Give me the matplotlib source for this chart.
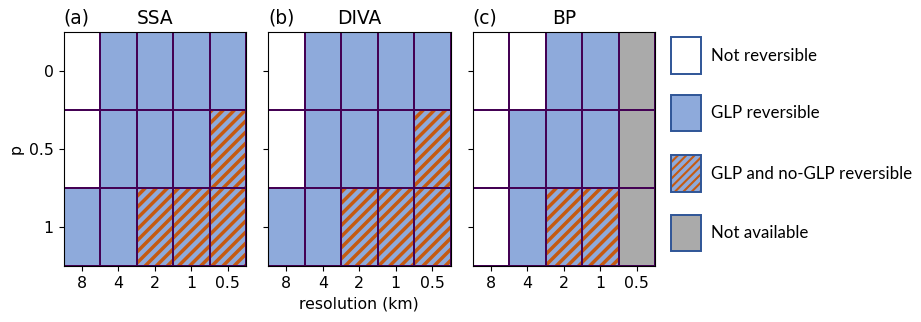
import numpy as np
import matplotlib
matplotlib.use("Agg")
import matplotlib.pyplot as plt
from matplotlib.colors import ListedColormap, BoundaryNorm
from matplotlib.patches import Rectangle

# codes: 0 not reversible, 1 GLP reversible, 2 GLP and no-GLP reversible, 3 not available
resolutions = ["8", "4", "2", "1", "0.5"]
p_values = ["0", "0.5", "1"]
methods = ["SSA", "DIVA", "BP"]
panel_tags = ["(a)", "(b)", "(c)"]

ssa = [[0, 1, 1, 1, 1],
       [0, 1, 1, 1, 2],
       [1, 1, 2, 2, 2]]
diva = [[0, 1, 1, 1, 1],
        [0, 1, 1, 1, 2],
        [1, 1, 2, 2, 2]]
bp = [[0, 0, 1, 1, 3],
      [0, 1, 1, 1, 3],
      [0, 1, 2, 2, 3]]

legend_labels = ["Not reversible", "GLP reversible",
                 "GLP and no-GLP reversible", "Not available"]

white = "#ffffff"
blue = "#8eaadb"
gray = "#aaaaaa"
orange = "#c55a11"
purple = "#440154"
legend_edge = "#2f5597"

plt.rcParams["hatch.linewidth"] = 2.5

cmap = ListedColormap([white, blue, blue, gray])
norm = BoundaryNorm([-0.5, 0.5, 1.5, 2.5, 3.5], cmap.N)

fs_tick = 11.3
fs_title = 13.4

fig = plt.figure(figsize=(9.21, 3.22), dpi=100)
W, H = 921, 322
lefts = [63.5, 268, 472.5]
aw, top, bot = 182.5, 32.3, 266

axes = []
for i, (name, tag, grid) in enumerate(zip(methods, panel_tags, [ssa, diva, bp])):
    ax = fig.add_axes([lefts[i] / W, (H - bot) / H, aw / W, (bot - top) / H])
    axes.append(ax)
    codes = np.array(grid)
    ax.pcolormesh(codes, cmap=cmap, norm=norm)
    hatched = np.ma.masked_where(codes != 2, codes)
    ax.pcolor(hatched, hatch="///", facecolor="none", edgecolor=orange, linewidth=0)
    ax.pcolormesh(codes, facecolor="none", edgecolor=purple, linewidth=1.3)
    ax.set_xlim(0, len(resolutions))
    ax.set_ylim(len(p_values), 0)
    ax.set_xticks(np.arange(len(resolutions)) + 0.5)
    ax.set_xticklabels(resolutions, fontsize=fs_tick)
    ax.set_yticks(np.arange(len(p_values)) + 0.5)
    if i == 0:
        ax.set_yticklabels(p_values, fontsize=fs_tick)
        ax.set_ylabel("p", fontsize=fs_tick)
    else:
        ax.set_yticklabels([])
    if i == 1:
        ax.set_xlabel("resolution (km)", fontsize=fs_tick)
    ax.set_title(name, fontsize=fs_title)
    ax.set_title(tag, fontsize=fs_title, loc="left")

# legend drawn as separate panel
lax = fig.add_axes([0, 0, 1, 1])
lax.set_xlim(0, W)
lax.set_ylim(H, 0)
lax.axis("off")
leg_fill = [white, blue, blue, gray]
leg_hatch = [None, None, "////", None]
leg_y = [37.3, 94.5, 155.3, 214.5]
for lab, fc, hc, y in zip(legend_labels, leg_fill, leg_hatch, leg_y):
    lax.add_patch(Rectangle((671, y), 29.5, 36.5, facecolor=fc, edgecolor="none"))
    if hc:
        hp = Rectangle((671, y), 29.5, 36.5, facecolor="none", edgecolor=orange,
                       hatch=hc, linewidth=0)
        if hasattr(hp, "set_hatch_linewidth"):
            hp.set_hatch_linewidth(1.5)
        lax.add_patch(hp)
    lax.add_patch(Rectangle((671, y), 29.5, 36.5, facecolor="none",
                            edgecolor=legend_edge, linewidth=1.4))
    lax.text(711, y + 18.5, lab, fontsize=12.2, family="Lato", va="center", ha="left")

fig.savefig("out.png", dpi=100)
